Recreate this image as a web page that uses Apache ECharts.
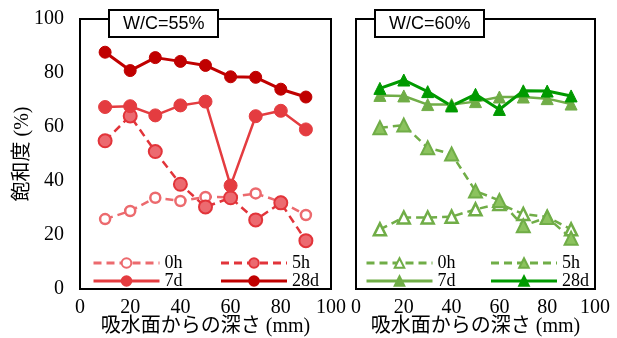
<!DOCTYPE html>
<html>
<head>
<meta charset="utf-8">
<script src="https://cdn.jsdelivr.net/npm/echarts@6/dist/echarts.min.js"></script>
<style>
  html, body { margin: 0; padding: 0; background: #fff; }
  #chart { width: 617px; height: 338px; }
</style>
</head>
<body>
<div id="chart"></div>
<script>
// Depth from the water-absorbing surface (mm)
const depths = [10, 20, 30, 40, 50, 60, 70, 80, 90];
const xTicks = [0, 20, 40, 60, 80, 100];
const yTicks = [0, 20, 40, 60, 80, 100];
const seriesNames = ['0h', '5h', '7d', '28d'];

// Degree of saturation (%), W/C = 55%
const wc55_0h  = [25.9, 28.9, 33.8, 32.6, 34.1, 34.0, 35.4, 32.3, 27.4];
const wc55_5h  = [54.9, 64.1, 50.9, 38.8, 30.4, 33.8, 25.6, 31.9, 17.9];
const wc55_7d  = [67.4, 67.7, 64.3, 68.0, 69.4, 38.3, 64.0, 66.0, 59.1];
const wc55_28d = [87.7, 80.9, 85.7, 84.3, 82.8, 78.6, 78.4, 74.0, 71.1];

// Degree of saturation (%), W/C = 60%
const wc60_0h  = [22.1, 26.5, 26.5, 26.8, 29.5, 31.5, 27.8, 26.7, 22.1];
const wc60_5h  = [59.7, 60.7, 52.3, 50.0, 36.3, 32.8, 23.4, 26.5, 18.8];
const wc60_7d  = [71.7, 71.5, 68.3, 68.3, 69.4, 71.1, 71.1, 70.5, 68.5];
const wc60_28d = [74.3, 77.4, 73.1, 67.8, 72.1, 66.5, 73.4, 73.3, 71.5];

const serif = '"Liberation Serif", "Times New Roman", "Noto Sans CJK JP", serif';
const sans = '"Liberation Sans", Arial, sans-serif';
const fs = 20;

function pairs(vals) { return depths.map((d, i) => [d, vals[i]]); }

// Line styling per curing age
const redStyle = {
  '0h':  { color: '#ec6a6e', fill: '#ffffff', width: 2.5, type: [8, 5], symbol: 'circle', size: 10, border: 2.5 },
  '5h':  { color: '#e2343a', fill: '#ec6a70', width: 2.5, type: [8, 5], symbol: 'circle', size: 13, border: 2 },
  '7d':  { color: '#e43c40', fill: '#e43c40', width: 2.5, type: 'solid', symbol: 'circle', size: 13, border: 1 },
  '28d': { color: '#c00000', fill: '#c00000', width: 3,   type: 'solid', symbol: 'circle', size: 12, border: 1 }
};
const greenStyle = {
  '0h':  { color: '#70ad47', fill: '#ffffff', width: 2.5, type: [8, 5], symbol: 'triangle', size: 12, border: 2.5 },
  '5h':  { color: '#70ad47', fill: '#8cc35e', width: 2.5, type: [8, 5], symbol: 'triangle', size: 13, border: 2 },
  '7d':  { color: '#70ad47', fill: '#70ad47', width: 2.5, type: 'solid', symbol: 'triangle', size: 12, border: 1 },
  '28d': { color: '#009a00', fill: '#009a00', width: 3,   type: 'solid', symbol: 'triangle', size: 12, border: 1 }
};

function makeSeries(name, vals, st, gi, prefix) {
  return {
    name: prefix + name,
    type: 'line',
    xAxisIndex: gi,
    yAxisIndex: gi,
    data: pairs(vals),
    symbol: st.symbol,
    symbolSize: st.size,
    lineStyle: { color: st.color, width: st.width, type: st.type },
    itemStyle: { color: st.fill, borderColor: st.color, borderWidth: st.border },
    emphasis: { disabled: true },
    z: 3
  };
}

const series = [
  makeSeries('0h', wc55_0h, redStyle['0h'], 0, 'a'),
  makeSeries('5h', wc55_5h, redStyle['5h'], 0, 'a'),
  makeSeries('7d', wc55_7d, redStyle['7d'], 0, 'a'),
  makeSeries('28d', wc55_28d, redStyle['28d'], 0, 'a'),
  makeSeries('0h', wc60_0h, greenStyle['0h'], 1, 'b'),
  makeSeries('5h', wc60_5h, greenStyle['5h'], 1, 'b'),
  makeSeries('7d', wc60_7d, greenStyle['7d'], 1, 'b'),
  makeSeries('28d', wc60_28d, greenStyle['28d'], 1, 'b')
];

function xAxis(gi) {
  return {
    type: 'value', gridIndex: gi, min: 0, max: 100, interval: 20,
    axisLine: { show: false }, axisTick: { show: false }, splitLine: { show: false },
    axisLabel: { fontFamily: serif, fontSize: fs, color: '#000', margin: 9,
      formatter: v => xTicks.includes(v) ? String(v) : '' },
    name: '吸水面からの深さ (mm)', nameLocation: 'middle', nameGap: 28, nameMoveOverlap: false,
    nameTextStyle: { fontFamily: serif, fontSize: fs, color: '#000' }
  };
}
function yAxis(gi, showLabels) {
  return {
    type: 'value', gridIndex: gi, min: 0, max: 100, interval: 20,
    axisLine: { show: false }, axisTick: { show: false }, splitLine: { show: false },
    axisLabel: { show: showLabels, fontFamily: serif, fontSize: fs, color: '#000', margin: 16,
      formatter: v => yTicks.includes(v) ? String(v) : '' },
    name: showLabels ? '飽和度 (%)' : '', nameLocation: 'middle', nameGap: 47, nameMoveOverlap: false,
    nameTextStyle: { fontFamily: serif, fontSize: fs, color: '#000' }
  };
}

function legend(names, prefix, left, top, gap) {
  return {
    data: names.map(n => prefix + n),
    formatter: n => n.slice(1),
    left: left, top: top, padding: 0,
    orient: 'horizontal',
    itemWidth: 66, itemHeight: 12, itemGap: gap,
    selectedMode: false,
    lineStyle: { width: 3 },
    textStyle: { fontFamily: serif, fontSize: 18, color: '#000' }
  };
}

const chart = echarts.init(document.getElementById('chart'), null, { renderer: 'canvas' });
chart.setOption({
  animation: false,
  backgroundColor: '#fff',
  grid: [
    { left: 80, top: 19, width: 251, height: 270, show: true, borderColor: '#000', borderWidth: 2,
      backgroundColor: 'transparent', outerBoundsMode: 'none', containLabel: false },
    { left: 356, top: 19, width: 239, height: 270, show: true, borderColor: '#000', borderWidth: 2,
      backgroundColor: 'transparent', outerBoundsMode: 'none', containLabel: false }
  ],
  title: [
    { text: 'W/C=55%', left: 109, top: 10, padding: [5, 14, 4, 14], borderColor: '#000', borderWidth: 2,
      backgroundColor: '#fff', textStyle: { fontFamily: sans, fontSize: 18, fontWeight: 'normal', color: '#000' }, z: 10 },
    { text: 'W/C=60%', left: 375, top: 10, padding: [5, 14, 4, 14], borderColor: '#000', borderWidth: 2,
      backgroundColor: '#fff', textStyle: { fontFamily: sans, fontSize: 18, fontWeight: 'normal', color: '#000' }, z: 10 }
  ],
  legend: [
    legend(['0h', '5h'], 'a', 92, 254, 37),
    legend(['7d', '28d'], 'a', 92, 272, 37),
    legend(['0h', '5h'], 'b', 365, 254, 34),
    legend(['7d', '28d'], 'b', 365, 272, 34)
  ],
  xAxis: [xAxis(0), xAxis(1)],
  yAxis: [yAxis(0, true), yAxis(1, false)],
  series: series
});
</script>
</body>
</html>
